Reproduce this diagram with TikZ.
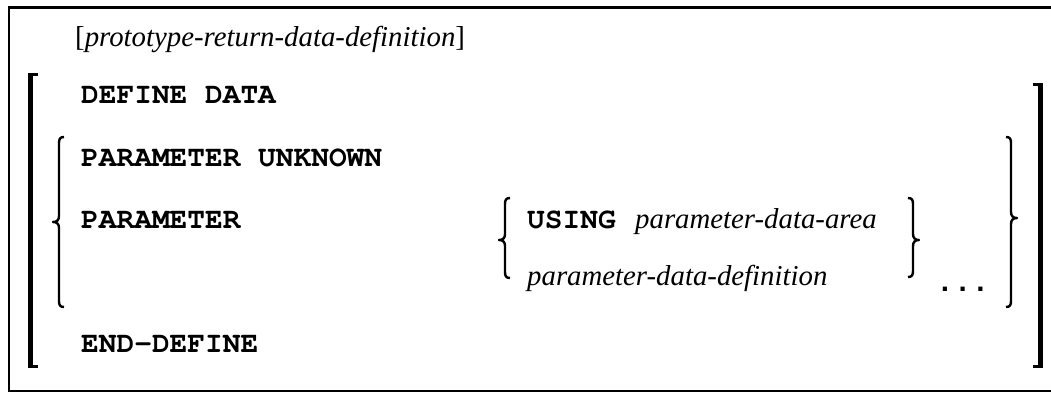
\documentclass[tikz,border=0pt]{standalone}
\usepackage{fontspec}
\setmainfont{Liberation Serif}
\newfontfamily\courfont{TeX Gyre Cursor}
\newfontfamily\dotfont{Liberation Mono}
\begin{document}
\begin{tikzpicture}[x=1pt,y=-1pt,
  kw/.style={anchor=base west,inner sep=0pt,font=\courfont\bfseries\fontsize{29.5}{30}\selectfont},
  var/.style={anchor=base west,inner sep=0pt,font=\fontsize{28.8}{30}\selectfont\itshape},
  frameline/.style={line width=2.6pt},
  bracefill/.style={line width=2.4pt,line cap=butt,line join=round}]
\useasboundingbox (0,0) rectangle (1051,393);
% frame
\draw[frameline] (1052,7.5) -- (9,7.5) -- (9,391) -- (1052,391);
% texts
\node[var] (proto) at (75,47) {{\upshape[}prototype-return-data-definition{\upshape]}};
\node[kw] (define) at (81,103) {DEFINE DATA};
\node[kw] (punk) at (81,166) {PARAMETER UNKNOWN};
\node[kw] (param) at (81,228) {PARAMETER};
\node[kw] (using) at (527,228) {USING};
\node[var] (pda) at (635,228) {parameter-data-area};
\node[var] (pdd) at (527,285) {parameter-data-definition};
\node[kw,font=\dotfont\bfseries\fontsize{29.5}{30}\selectfont] (dots) at (936,291) {...};
\node[kw] (enddef) at (81,352) {END-DEFINE};
% big brackets
\fill (28,73) rectangle (33,368);
\fill (28,73) rectangle (38,76.5);
\fill (28,364.5) rectangle (38,368);
\fill (1038,83) rectangle (1043,368);
\fill (1033,83) rectangle (1043,86.5);
\fill (1033,364.5) rectangle (1043,368);
% braces: \mybrace{x}{top}{mid}{bottom}{dir}
\newcommand{\mybrace}[5]{%
  \draw[bracefill] ({#1+5*#5},#2) .. controls ({#1+1*#5},#2) and (#1,{#2+2}) .. (#1,{#2+6})
    -- (#1,{#3-6}) .. controls (#1,{#3-2}) and ({#1-2*#5},#3) .. ({#1-6*#5},#3)
    .. controls ({#1-2*#5},#3) and (#1,{#3+2}) .. (#1,{#3+6})
    -- (#1,{#4-6}) .. controls (#1,{#4-2}) and ({#1+1*#5},#4) .. ({#1+5*#5},#4);}
\mybrace{59}{137}{222}{307}{1}
\mybrace{505}{198}{240}{278}{1}
\mybrace{913}{198}{240}{277}{-1}
\mybrace{1011}{137}{218}{307}{-1}
\end{tikzpicture}
\end{document}
